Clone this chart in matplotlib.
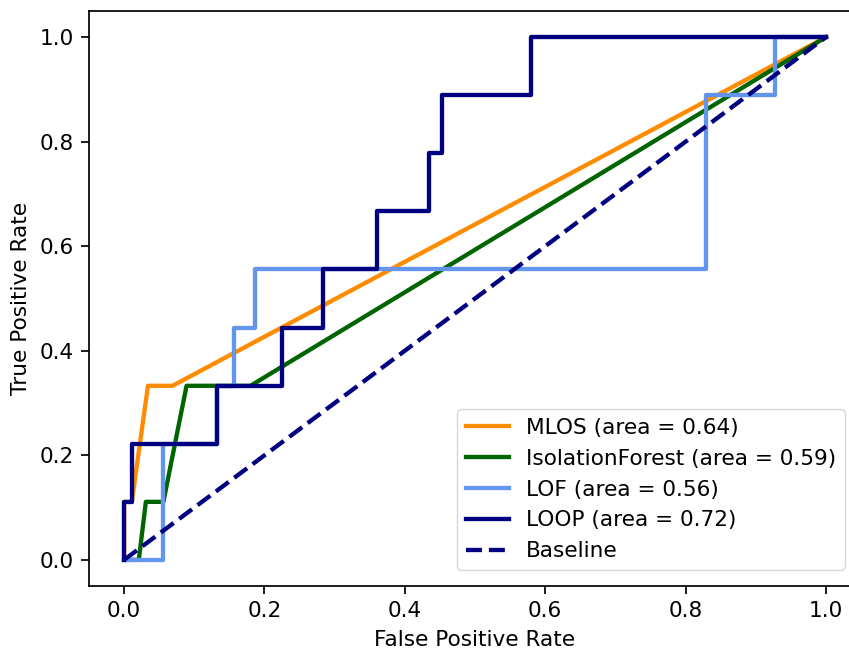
import numpy as np
import matplotlib
matplotlib.use('Agg')
import matplotlib.pyplot as plt

# ROC curves
mlos_fpr = [0.0, 0.0, 0.011, 0.034, 0.069, 1.0]
mlos_tpr = [0.0, 0.111, 0.111, 0.333, 0.333, 1.0]

iso_fpr = [0.0, 0.021, 0.031, 0.056, 0.089, 0.18, 1.0]
iso_tpr = [0.0, 0.0, 0.111, 0.111, 0.333, 0.333, 1.0]

lof_fpr = [0.0, 0.055, 0.055, 0.132, 0.132, 0.157, 0.157, 0.187, 0.187, 0.829, 0.829, 0.928, 0.928, 1.0]
lof_tpr = [0.0, 0.0, 0.222, 0.222, 0.333, 0.333, 0.444, 0.444, 0.556, 0.556, 0.889, 0.889, 1.0, 1.0]

loop_fpr = [0.0, 0.0, 0.011, 0.011, 0.132, 0.132, 0.225, 0.225, 0.283, 0.283,
            0.361, 0.361, 0.434, 0.434, 0.453, 0.453, 0.580, 0.580, 1.0]
loop_tpr = [0.0, 0.111, 0.111, 0.222, 0.222, 0.333, 0.333, 0.444, 0.444, 0.556,
            0.556, 0.667, 0.667, 0.778, 0.778, 0.889, 0.889, 1.0, 1.0]

names = ['MLOS', 'IsolationForest', 'LOF', 'LOOP']
areas = [0.64, 0.59, 0.56, 0.72]
colors = ['darkorange', 'darkgreen', 'cornflowerblue', 'navy']

# original looks like a default 6.4x4.8 figure saved at ~155 dpi and cropped
s = 1.555
plt.rcParams['font.size'] = 10 * s
plt.rcParams['axes.linewidth'] = 0.8 * s
plt.rcParams['xtick.major.width'] = 0.8 * s
plt.rcParams['ytick.major.width'] = 0.8 * s
plt.rcParams['xtick.major.size'] = 3.5 * s
plt.rcParams['ytick.major.size'] = 3.5 * s
plt.rcParams['xtick.major.pad'] = 3.5 * s
plt.rcParams['ytick.major.pad'] = 3.5 * s
plt.rcParams['axes.labelpad'] = 4.0 * s

fig = plt.figure(figsize=(8.49, 6.53), dpi=100)
ax = fig.add_axes([89 / 849, 1 - 586 / 653, 772 / 849, 575 / 653])

curves = [(mlos_fpr, mlos_tpr), (iso_fpr, iso_tpr), (lof_fpr, lof_tpr), (loop_fpr, loop_tpr)]
for (fpr, tpr), name, area, c in zip(curves, names, areas, colors):
    ax.plot(fpr, tpr, color=c, lw=2 * s, label='%s (area = %0.2f)' % (name, area))
ax.plot([0, 1], [0, 1], color='navy', lw=2 * s, linestyle='--', label='Baseline')

ax.set_xlim(-0.05, 1.05)
ax.set_ylim(-0.05, 1.05)
ax.set_xlabel('False Positive Rate')
ax.set_ylabel('True Positive Rate')
ax.legend(loc='lower right', borderaxespad=0.75)

fig.savefig('out.png', dpi=100)
